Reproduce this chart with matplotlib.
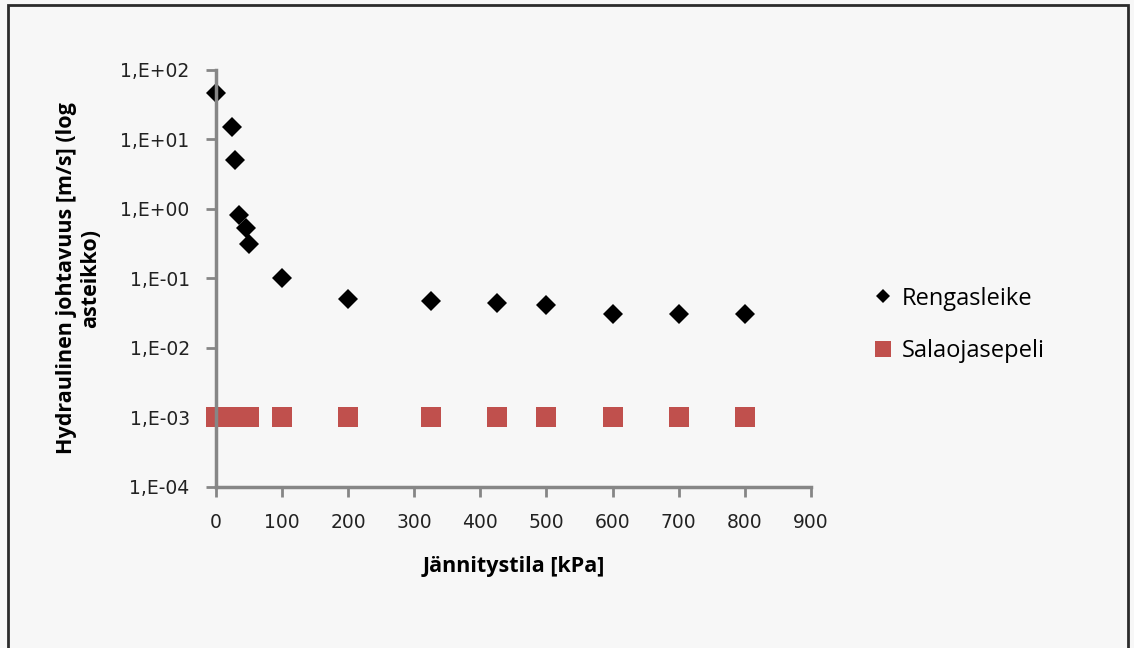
import matplotlib.pyplot as plt
from matplotlib.patches import Rectangle

# data
jannitys = [0, 24, 29, 35, 45, 50, 100, 200, 325, 425, 500, 600, 700, 800]
rengasleike = [46, 15, 5.1, 0.82, 0.53, 0.31, 0.1, 0.051, 0.048, 0.044, 0.042, 0.031, 0.031, 0.031]
salaojasepeli = [0.001] * len(jannitys)

y_ticks = [1e-4, 1e-3, 1e-2, 1e-1, 1e0, 1e1, 1e2]
y_labels = ["1,E-04", "1,E-03", "1,E-02", "1,E-01", "1,E+00", "1,E+01", "1,E+02"]
x_ticks = [0, 100, 200, 300, 400, 500, 600, 700, 800, 900]

plt.rcParams['font.family'] = ['Open Sans', 'DejaVu Sans']

fig = plt.figure(figsize=(11.34, 6.48), dpi=100, facecolor='#f7f7f7')
fig.patches.append(Rectangle((0.007, -0.01), 0.988, 1.002, transform=fig.transFigure,
                             fill=False, edgecolor='#2b2b2b', linewidth=2))
ax = fig.add_axes([0.1905, 0.2485, 0.5245, 0.6435])
ax.set_facecolor('#f7f7f7')

ax.plot(jannitys, salaojasepeli, 's', color='#c0504d', markersize=14.5,
        markeredgewidth=0, label='Salaojasepeli', clip_on=False)
ax.plot(jannitys, rengasleike, 'D', color='black', markersize=10,
        markeredgewidth=0, label='Rengasleike', clip_on=False)

ax.set_yscale('log')
ax.set_ylim(1e-4, 1e2)
ax.set_xlim(0, 900)
ax.set_yticks(y_ticks)
ax.set_yticklabels(y_labels)
ax.minorticks_off()
ax.set_xticks(x_ticks)
for t in ax.get_xticklabels() + ax.get_yticklabels():
    t.set_family('DejaVu Sans')

for s in ['top', 'right']:
    ax.spines[s].set_visible(False)
for s in ['left', 'bottom']:
    ax.spines[s].set_color('#868686')
    ax.spines[s].set_linewidth(2.5)
ax.tick_params(colors='#868686', width=2, length=7, labelcolor='#222222', labelsize=13.5)
ax.tick_params(axis='y', pad=12)
ax.tick_params(axis='x', pad=12)

ax.set_xlabel('Jännitystila [kPa]', fontsize=15.5, fontweight='bold', labelpad=17)
ax.set_ylabel('Hydraulinen johtavuus [m/s] (log\nasteikko)', fontsize=15.5,
              fontweight='bold', labelpad=14, linespacing=1.2)

handles, labels = ax.get_legend_handles_labels()
leg = ax.legend(handles[::-1], labels[::-1], loc='center left', bbox_to_anchor=(1.061, 0.389),
                frameon=False, fontsize=17, handletextpad=0.2, labelspacing=1.2,
                markerscale=0.75, handlelength=1.2)

plt.savefig('out.png', dpi=100, facecolor=fig.get_facecolor())
